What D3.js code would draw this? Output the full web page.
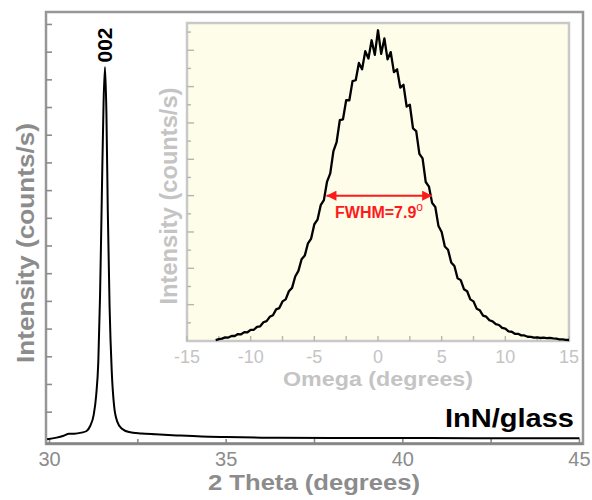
<!DOCTYPE html>
<html><head><meta charset="utf-8">
<script src="https://cdn.jsdelivr.net/npm/d3@7"></script>
<style>body{margin:0;background:#fff}svg{display:block;font-family:"Liberation Sans",Arial,sans-serif}</style>
</head><body><svg id="c" width="592" height="500"></svg>
<script>
// ---- Main XRD scan (2 Theta, counts/s) ----
const twoTheta = [29.93,30.2,30.4,30.55,30.7,30.9,31.05,31.15,31.25,31.32,31.38,31.43,31.48,31.53,31.57,31.61,31.65,31.70,31.76,31.83,31.92,32.05,32.25,32.6,33.0,33.6,34.3,35.0,36.0,38.0,40.0,42.0,45.0];
const counts   = [2,8,15,22,22,26,32,50,90,160,280,520,880,1220,1346,1180,820,480,250,120,65,40,28,23,20,16,12,10,8,7,7,6,6];
const mainXTicks = [30,35,40,45];
const mainXMinor = [30,32.5,35,37.5,40,42.5,45];
const mainYTicks = [100,200,300,400,500,600,700,800,900,1000,1100,1200,1300,1400,1500];

// ---- Inset rocking curve (Omega, counts/s) ----
const omega = [-12.75,-12.5,-12.25,-12,-11.75,-11.5,-11.25,-11,-10.75,-10.5,-10.25,-10,-9.75,-9.5,-9.25,-9,-8.75,-8.5,-8.25,-8,-7.75,-7.5,-7.25,-7,-6.75,-6.5,-6.25,-6,-5.75,-5.5,-5.25,-5,-4.75,-4.5,-4.25,-4,-3.75,-3.5,-3.25,-3,-2.75,-2.5,-2.25,-2,-1.75,-1.5,-1.25,-1,-0.75,-0.5,-0.25,0,0.25,0.5,0.75,1,1.25,1.5,1.75,2,2.25,2.5,2.75,3,3.25,3.5,3.75,4,4.25,4.5,4.75,5,5.25,5.5,5.75,6,6.25,6.5,6.75,7,7.25,7.5,7.75,8,8.25,8.5,8.75,9,9.25,9.5,9.75,10,10.25,10.5,10.75,11,11.25,11.5,11.75,12,12.25,12.5,12.75,13,13.25,13.5,13.75,14,14.25,14.5,14.75,15];
const rocking = [10,20,26,40,38,56,55,76,74,98,96,122,124,156,162,206,218,266,284,348,362,436,458,548,585,710,772,900,940,1075,1128,1285,1335,1495,1550,1755,1845,2090,2190,2430,2440,2650,2650,2860,2870,3060,2990,3190,3110,3310,3150,3420,3160,3330,3100,3180,2960,2990,2790,2820,2580,2600,2340,2310,2060,2010,1750,1700,1520,1475,1265,1200,1040,1005,865,825,690,670,570,548,458,436,356,338,280,268,228,216,186,176,144,136,106,102,80,79,62,61,47,46,38,39,33,36,31,34,28,26,18,17,12,11];
const insetXTicks = [-15,-10,-5,0,5,10,15];
const insetXMinor = [-15,-12.5,-10,-7.5,-5,-2.5,0,2.5,5,7.5,10,12.5,15];
const insetYTicks = [200,400,600,800,1000,1200,1400,1600,1800,2000,2200,2400,2600,2800,3000,3200,3400];
const fwhmRange = [-4.05, 4.25];
const fwhmLevel = 1600;

const svg = d3.select("#c");
const grey = "#8c8c8c", light = "#c4c4c4";

// main scales
const x = d3.scaleLinear().domain([29.9,45.1]).range([46,583]);
const y = d3.scaleLinear().domain([-15,1545]).range([444,12]);

// main frame
svg.append("rect").attr("x",46).attr("y",12).attr("width",537).attr("height",432)
  .attr("fill","none").attr("stroke","#979797").attr("stroke-width",2.5);

// main ticks
svg.append("g").selectAll("line").data(mainYTicks).join("line")
  .attr("x1",46).attr("x2",52).attr("y1",d=>y(d)).attr("y2",d=>y(d))
  .attr("stroke",grey).attr("stroke-width",1.6);
svg.append("g").selectAll("line").data(mainXMinor).join("line")
  .attr("x1",d=>x(d)).attr("x2",d=>x(d)).attr("y1",444).attr("y2",439)
  .attr("stroke",grey).attr("stroke-width",1.6);
svg.append("line").attr("x1",46).attr("x2",583).attr("y1",443.5).attr("y2",443.5)
  .attr("stroke","#858585").attr("stroke-width",2.5);
svg.append("g").selectAll("text").data(mainXTicks).join("text")
  .attr("x",d=>x(d)).attr("y",466).attr("text-anchor","middle")
  .attr("font-size",20).attr("fill",grey).text(d=>d);

// inset panel
const ix = d3.scaleLinear().domain([-15,15]).range([187,569]);
const iy = d3.scaleLinear().domain([0,3500]).range([341,23]);
svg.append("rect").attr("x",187).attr("y",23).attr("width",382).attr("height",318)
  .attr("fill","#fdfdea").attr("stroke","#c9c9c9").attr("stroke-width",2.5);
svg.append("g").selectAll("line").data(insetYTicks).join("line")
  .attr("x1",187).attr("x2",d=>d%400===0?194:191).attr("y1",d=>iy(d)).attr("y2",d=>iy(d))
  .attr("stroke","#b5b5b5").attr("stroke-width",1.4);
svg.append("g").selectAll("line").data(insetXMinor).join("line")
  .attr("x1",d=>ix(d)).attr("x2",d=>ix(d)).attr("y1",341).attr("y2",336)
  .attr("stroke","#b5b5b5").attr("stroke-width",1.4);
svg.append("g").selectAll("text").data(insetXTicks).join("text")
  .attr("x",d=>ix(d)).attr("y",363).attr("text-anchor","middle")
  .attr("font-size",18).attr("fill",light).text(d=>d);
svg.append("text").attr("x",378).attr("y",386).attr("text-anchor","middle")
  .attr("font-size",21).attr("font-weight","bold").attr("fill",light)
  .attr("textLength",190).attr("lengthAdjust","spacingAndGlyphs").text("Omega (degrees)");
svg.append("text").attr("transform","translate(177,196) rotate(-90)").attr("text-anchor","middle")
  .attr("font-size",23).attr("font-weight","bold").attr("fill",light)
  .attr("textLength",217).attr("lengthAdjust","spacingAndGlyphs").text("Intensity (counts/s)");

// inset curve
const rc = omega.map((o,i)=>[o,rocking[i]]);
svg.append("path").datum(rc)
  .attr("d",d3.line().x(d=>ix(d[0])).y(d=>iy(d[1])))
  .attr("fill","none").attr("stroke","#000").attr("stroke-width",2.3).attr("stroke-linejoin","round");

// FWHM arrow
const defs = svg.append("defs");
defs.append("marker").attr("id","ah").attr("viewBox","0 0 10 10").attr("refX",10).attr("refY",5)
  .attr("markerWidth",7).attr("markerHeight",5).attr("orient","auto-start-reverse")
  .attr("markerUnits","strokeWidth")
  .append("path").attr("d","M0,0L10,5L0,10Z").attr("fill","#ff1a1a");
svg.append("line").attr("x1",ix(fwhmRange[0])).attr("x2",ix(fwhmRange[1]))
  .attr("y1",iy(fwhmLevel)).attr("y2",iy(fwhmLevel))
  .attr("stroke","#ff1a1a").attr("stroke-width",2)
  .attr("marker-start","url(#ah)").attr("marker-end","url(#ah)");
const ft = svg.append("text").attr("x",335).attr("y",218).attr("font-size",16)
  .attr("font-weight","bold").attr("fill","#ff1a1a");
ft.append("tspan").text("FWHM=7.9");
ft.append("tspan").attr("dy",-7).attr("font-size",12).attr("font-weight","normal").text("o");

// main curve
const mc = twoTheta.map((t,i)=>[t,counts[i]]);
svg.append("path").datum(mc)
  .attr("d",d3.line().curve(d3.curveMonotoneX).x(d=>x(d[0])).y(d=>y(d[1])))
  .attr("fill","none").attr("stroke","#000").attr("stroke-width",2).attr("stroke-linejoin","round");

// labels
svg.append("text").attr("transform","translate(112,45) rotate(-90)").attr("text-anchor","middle")
  .attr("font-size",21).attr("font-weight","bold").attr("fill","#000").text("002");
svg.append("text").attr("transform","translate(34,243) rotate(-90)").attr("text-anchor","middle")
  .attr("font-size",24).attr("font-weight","bold").attr("fill",grey)
  .attr("textLength",240).attr("lengthAdjust","spacingAndGlyphs").text("Intensity (counts/s)");
svg.append("text").attr("x",314).attr("y",490).attr("text-anchor","middle")
  .attr("font-size",22).attr("font-weight","bold").attr("fill",grey)
  .attr("textLength",212).attr("lengthAdjust","spacingAndGlyphs").text("2 Theta (degrees)");
svg.append("text").attr("x",574).attr("y",427).attr("text-anchor","end")
  .attr("font-size",26).attr("font-weight","bold").attr("fill","#000")
  .attr("textLength",129).attr("lengthAdjust","spacingAndGlyphs").text("InN/glass");
</script></body></html>
